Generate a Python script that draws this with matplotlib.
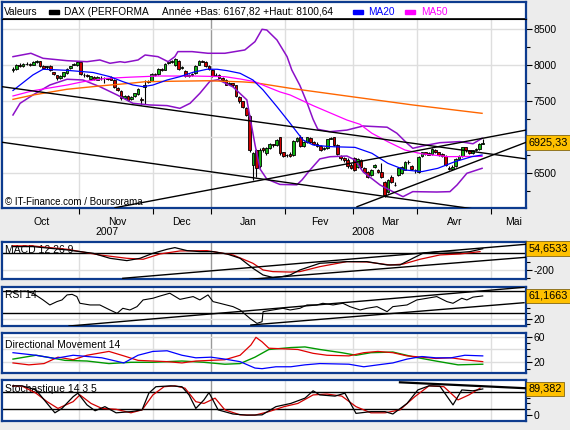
import matplotlib
matplotlib.use("Agg")
import matplotlib.pyplot as plt
from matplotlib.patches import Rectangle
import numpy as np

plt.rcParams['font.family'] = ['Liberation Sans', 'DejaVu Sans']
plt.rcParams['axes.unicode_minus'] = False

# ---- DAX daily candles, one entry per trading day (early Oct 2007 -> late Apr 2008)
opens = [7930, 7955, 8000, 7990, 8015, 8020, 8010, 8045, 8060, 7985, 7970, 7990, 7900, 7860, 7830, 7850, 7890, 7960, 8010, 8000,
         8040, 7870, 7860, 7810, 7840, 7800, 7830, 7820, 7820, 7840, 7800, 7690, 7640, 7550, 7580, 7530, 7570, 7600, 7530, 7700, 7770, 7780,
         7880, 7880, 7955, 7940, 8030, 8040, 8000, 8060, 7960, 7920, 7855, 7860, 7890, 8010, 8060, 8050, 7990,
         7940, 7860, 7870, 7830, 7790, 7740, 7750, 7720, 7560, 7500, 7410, 7300, 6615, 6820, 6600, 6850, 6780, 6850, 6900, 6890, 7000, 6790,
         6750, 6770, 6750, 6950, 7010, 6880, 6930, 6990, 6930, 6910, 6880, 6840, 6850, 6980, 7000, 6890, 6740, 6710, 6690, 6610,
         6710, 6590, 6685, 6575, 6520, 6475, 6590, 6545, 6520, 6380, 6240, 6450, 6340, 6475, 6505, 6545, 6650, 6600, 6545,
         6520, 6740, 6790, 6780, 6770, 6830, 6790, 6770, 6740, 6580, 6560, 6600, 6700, 6740, 6860, 6820, 6780, 6830, 6840, 6910]
highs = [7975, 8015, 8025, 8030, 8040, 8035, 8060, 8075, 8065, 8000, 7995, 8000, 7910, 7870, 7860, 7910, 7960, 7995, 8035, 8055,
         8050, 7890, 7880, 7855, 7850, 7850, 7845, 7840, 7830, 7850, 7810, 7700, 7660, 7590, 7590, 7575, 7620, 7680, 7560, 7790, 7800, 7890,
         7895, 7960, 7965, 8030, 8055, 8070, 8100, 8070, 7985, 7930, 7880, 7890, 8000, 8070, 8075, 8060, 8000,
         7950, 7890, 7880, 7840, 7810, 7770, 7760, 7730, 7570, 7510, 7420, 7310, 6800, 6840, 6850, 6870, 6870, 6920, 6910, 6980, 7010, 6800,
         6770, 6790, 6960, 7010, 7030, 6950, 7010, 7000, 6950, 6930, 6890, 6860, 6980, 7010, 7010, 6900, 6760, 6720, 6710, 6640,
         6720, 6710, 6700, 6590, 6530, 6560, 6630, 6560, 6640, 6390, 6420, 6470, 6380, 6590, 6600, 6670, 6680, 6620, 6560,
         6740, 6800, 6800, 6790, 6850, 6840, 6800, 6780, 6750, 6600, 6610, 6710, 6760, 6870, 6870, 6830, 6830, 6850, 6920, 6970]
lows = [7900, 7940, 7975, 7980, 8000, 7995, 8000, 8030, 7980, 7955, 7950, 7920, 7860, 7800, 7815, 7840, 7880, 7950, 8000, 7995,
        7870, 7840, 7840, 7800, 7800, 7790, 7800, 7760, 7795, 7790, 7690, 7640, 7520, 7530, 7500, 7515, 7560, 7590, 7450, 7460, 7760, 7775,
        7855, 7870, 7925, 7935, 8020, 8030, 7990, 7940, 7950, 7840, 7840, 7850, 7880, 8005, 8040, 7980, 7940,
        7840, 7850, 7820, 7780, 7720, 7720, 7700, 7560, 7480, 7400, 7290, 6800, 6400, 6450, 6580, 6790, 6760, 6840, 6860, 6880, 6760, 6730,
        6730, 6720, 6740, 6940, 6870, 6860, 6920, 6920, 6890, 6870, 6810, 6820, 6840, 6970, 6880, 6760, 6690, 6660, 6580, 6560,
        6530, 6580, 6580, 6510, 6440, 6460, 6580, 6500, 6430, 6167, 6220, 6370, 6320, 6460, 6490, 6540, 6630, 6540, 6500,
        6510, 6730, 6760, 6750, 6760, 6780, 6740, 6720, 6600, 6540, 6550, 6590, 6690, 6730, 6800, 6770, 6770, 6810, 6830, 6900]
closes = [7950, 8000, 7990, 8015, 8020, 8010, 8050, 8060, 7990, 7965, 7985, 7930, 7880, 7820, 7845, 7900, 7950, 7985, 8020, 8045,
          7880, 7860, 7850, 7845, 7810, 7835, 7820, 7825, 7810, 7800, 7700, 7660, 7540, 7575, 7520, 7560, 7610, 7670, 7520, 7720, 7780, 7880,
          7870, 7950, 7935, 8020, 8040, 8060, 8090, 7950, 7970, 7855, 7860, 7875, 7990, 8060, 8050, 7990, 7950,
          7850, 7870, 7830, 7790, 7730, 7755, 7720, 7580, 7500, 7420, 7310, 6820, 6780, 6570, 6830, 6820, 6850, 6900, 6895, 6960, 6780, 6740,
          6760, 6740, 6950, 6990, 6880, 6930, 7000, 6930, 6900, 6880, 6820, 6850, 6970, 6990, 6890, 6770, 6710, 6690, 6600, 6580,
          6545, 6700, 6590, 6520, 6450, 6545, 6615, 6520, 6450, 6200, 6410, 6380, 6340, 6575, 6590, 6655, 6650, 6560, 6540,
          6725, 6790, 6770, 6760, 6840, 6790, 6760, 6740, 6620, 6560, 6590, 6700, 6740, 6860, 6830, 6780, 6820, 6840, 6900, 6925]

# ---- overlays (day index, value)
ma20_d = [0, 5.9, 8.9, 16, 23.7, 28.7, 32.5, 35.5, 38.5, 41.4, 45.6, 49.4, 53.3, 57.4, 60.4, 63.3, 67.2, 71.0, 74.0, 78.1,
          82.0, 85.8, 88.8, 93.8, 101.2, 106.2, 110.9, 116.0, 121.0, 125.7, 130.8, 135.8, 138.8]
ma20_v = [7650, 7866, 7945, 7930, 7900, 7842, 7773, 7726, 7703, 7726, 7796, 7842, 7903, 7945, 7945, 7926, 7889, 7796, 7657, 7425,
          7195, 6963, 6893, 6870, 6860, 6778, 6639, 6546, 6523, 6569, 6662, 6731, 6754]
ma50_d = [0, 5.9, 16, 20.7, 27.8, 34.6, 42.9, 53, 62.7, 67.2, 71.6, 75.1, 79, 82, 88.8, 98.8, 102.7, 106.2, 110.9, 116, 121,
          128.7, 138.8]
ma50_v = [7574, 7647, 7726, 7772, 7819, 7835, 7851, 7851, 7842, 7810, 7772, 7703, 7630, 7588, 7440, 7240, 7180, 7056, 6939, 6823,
          6770, 6731, 6735]
ma100_d = [0, 5.9, 16, 25.7, 34.6, 39.1, 47.9, 57.7, 67.8, 71.6, 82, 98.8, 118.3, 138.8]
ma100_v = [7527, 7587, 7667, 7713, 7750, 7772, 7779, 7785, 7770, 7758, 7681, 7573, 7449, 7333]
bb_up_d = [0, 5.3, 8.9, 16, 21.9, 25.7, 28.7, 31.7, 33.1, 37, 39.1, 42.9, 45.9, 47.9, 48.8, 53, 57.7, 62.7, 68.6, 71.6, 73.7,
           75.1, 78.1, 81.1, 82.5, 84.9, 87.0, 88.8, 90.2, 93.8, 98.8, 103.6, 110.7, 113.6, 116.6, 118.3, 121.3, 126.3, 132.2,
           136.1, 138.8]
bb_up_v = [8120, 8167, 8097, 8064, 8050, 8074, 8028, 8050, 8040, 8074, 8143, 8120, 8050, 8120, 8190, 8190, 8167, 8167, 8213, 8328,
           8500, 8490, 8352, 8120, 7935, 7720, 7480, 7250, 7111, 7078, 7100, 7157, 7140, 7056, 6917, 6847, 6880, 6925, 6940,
           6910, 6986]
bb_lo_d = [0, 2.1, 5.9, 10.9, 16, 20.7, 25.7, 30.8, 35.5, 40.5, 45.6, 49.4, 52.4, 55.3, 58.3, 60.7, 65.1, 69.2, 71.6, 73.1,
           75.1, 79, 84, 85.5, 87.9, 90.8, 93.8, 98.8, 101.2, 103.6, 108.6, 112.4, 115.4, 118.3, 125.4, 129.3, 131.4, 134.3, 138.8]
bb_lo_v = [7310, 7472, 7588, 7726, 7806, 7796, 7703, 7588, 7472, 7449, 7440, 7402, 7472, 7611, 7780, 7800, 7700, 7520, 6900, 6560,
           6420, 6345, 6340, 6407, 6546, 6700, 6730, 6740, 6685, 6520, 6338, 6245, 6175, 6245, 6240, 6245, 6338, 6500, 6569]
# trend lines drawn on the price panel: (start day, start value, end day, end value)
price_trends = [(-3.25, 7703, 151.8, 6700), (-3.25, 6931, 151.8, 5902),
                (30.2, 6022, 151.8, 7100), (101.8, 6036, 151.8, 6930)]

# ---- MACD 12 26 9
macd_d = [0, 5.9, 16, 23.7, 28.7, 33.7, 37.6, 41.4, 45.6, 47.9, 51.5, 55.3, 59.2, 63.3, 67.2, 71.0, 74.0, 76.9, 79.6, 82.0,
          84.9, 90.8, 98.8, 104.7, 110.7, 114.5, 118.3, 121.3, 126.3, 132.2, 135.2, 139]
macd_v = [80, 80, 40, 0, -60, -88, -60, 0, 48, 68, 32, 20, 20, -8, -60, -180, -260, -290, -280, -260,
          -200, -120, -100, -100, -140, -140, -60, 0, 20, 10, 20, 54.65]
sig_d = [0, 5.9, 16, 25.7, 33.7, 38.5, 43.5, 49.4, 57.4, 65.1, 71, 74, 76.9, 82, 84.9, 90.8, 98.8, 104.7, 111.5, 115.4,
         120.4, 126.3, 132.2, 138.2]
sig_v = [90, 88, 48, -20, -60, -72, -8, 28, 32, -20, -120, -200, -220, -225, -220, -160, -100, -104, -140, -130,
         -72, -20, -8, 20]
macd_trends = [(32.5, -300, 151.8, 108), (70.1, -312, 151.8, -48)]

# ---- RSI 14
rsi_d = [0, 3.6, 5.9, 8.9, 10.9, 13.0, 14.5, 16, 17.5, 18.9, 19.8, 22.8, 25.7, 28.7, 30.8, 32.5, 34.6, 36.7, 38.5, 41.4,
         43.5, 46.4, 49.4, 53.3, 55.3, 57.7, 59.2, 61.2, 65.1, 67.2, 70.1, 72.2, 73.7, 74.0, 76.9, 79.9, 82.0, 84.9, 87.0,
         89.9, 91.7, 94.7, 97.6, 99.7, 102.7, 104.7, 107.7, 110.7, 112.4, 116.6, 119.5, 122.5, 125.4, 128.4, 130.2, 132.8,
         134.3, 136.1, 139]
rsi_v = [68, 70, 66, 54, 45, 51, 54, 63, 64, 60, 48, 45, 45, 36, 30, 39, 36, 42, 54, 57,
         61, 66, 55, 60, 54, 63, 51, 48, 42, 36, 21, 12, 15, 33, 36, 39, 36, 39, 45,
         45, 48, 45, 48, 42, 36, 39, 42, 33, 42, 45, 54, 57, 60, 51, 48, 57,
         54, 59, 61.17]
rsi_trends = [(16.6, 7.3, 151.2, 76.6), (70.4, 9.1, 151.2, 49)]

# ---- Directional Movement 14
dmi_blue_d = [0, 6.8, 12.4, 17.8, 26.3, 32.8, 37.0, 41.4, 45.6, 50.0, 54.1, 58.6, 62.7, 67.2, 71.6, 73.7, 77.8, 82.2, 86.4,
              90.8, 99.4, 103.8, 108.0, 112.4, 116.6, 121.0, 125.1, 129.6, 133.7, 139]
dmi_blue_v = [35, 31, 26, 31, 27, 19, 31, 37, 38, 31, 27, 28, 25, 21, 11, 10, 13, 13, 16,
              18, 17, 13, 16, 19, 25, 29, 27, 27, 31, 30]
dmi_red_d = [0, 4.7, 9.2, 13.3, 17.8, 21.9, 28.4, 32.8, 37.0, 41.4, 45.6, 50.0, 54.1, 58.6, 62.7, 67.2, 70.4, 71.9, 73.7,
             75.7, 80.2, 84.3, 88.8, 92.9, 99.4, 103.8, 108.0, 112.4, 116.6, 121.0, 125.1, 129.6, 133.7, 139]
dmi_red_v = [19, 16, 18, 28, 24, 31, 37, 30, 23, 22, 21, 19, 22, 23, 24, 31, 47, 59, 52,
             42, 41, 40, 34, 31, 30, 35, 37, 35, 30, 28, 26, 27, 24, 21]
adx_d = [0, 6.8, 11.2, 15.4, 21.9, 28.4, 34.9, 41.4, 50.0, 56.5, 62.7, 67.2, 71.6, 75.7, 82.2, 86.4, 90.8, 97.3, 101.5,
         105.9, 112.4, 118.9, 125.1, 131.7, 139]
adx_v = [25, 31, 27, 23, 22, 18, 20, 20, 22, 20, 17, 18, 28, 40, 43, 44, 40, 35, 31,
         35, 36, 28, 22, 16, 17]

# ---- Stochastique 14 3 5
stk_d = [0, 2.7, 6.8, 10.1, 12.4, 14.5, 17.8, 19.2, 21.9, 24.3, 27.2, 30.5, 34.9, 38.2, 40.2, 42.3, 46.7, 50.0, 52.1, 54.1,
         56.5, 58.0, 60.7, 65.1, 69.2, 73.7, 77.8, 82.2, 86.4, 88.8, 90.8, 95.3, 98.2, 101.5, 105.9, 110.1, 112.4, 116.6,
         119.8, 123.1, 126.3, 130.2, 132.8, 136.1, 139]
stk_v = [100, 100, 86, 40, 8, 23, 63, 75, 35, 15, 29, 8, 12, 18, 75, 97, 100, 97, 69, 23,
         52, 77, 18, 4, 0, 1, 29, 40, 58, 83, 69, 65, 75, 6, 12, 12, 4, 40,
         86, 100, 99, 35, 86, 83, 89.38]
std_d = [0, 2.7, 6.8, 10.1, 13.3, 17.8, 19.8, 23.1, 26.3, 30.5, 34.9, 38.2, 41.4, 44.7, 47.9, 50.9, 54.1, 56.5, 59.8, 62.7,
         67.2, 71.6, 75.7, 80.2, 84.3, 88.8, 92.9, 97.3, 101.5, 105.9, 110.1, 114.5, 118.9, 123.1, 127.5, 131.7, 134.9, 138.2]
std_v = [100, 99, 75, 46, 23, 46, 69, 40, 23, 20, 8, 18, 69, 97, 100, 92, 46, 40, 58, 18,
         1, 0, 12, 29, 40, 69, 72, 65, 29, 8, 8, 18, 63, 100, 97, 52, 69, 92]
stoch_trends = [(114.5, 112, 152.1, 91.6)]

month_bounds = [19.5, 41.5, 58.5, 80.5, 100.5, 119.5, 141.5]
month_pos = [8.6, 30.8, 49.7, 69.5, 90.8, 111.5, 130.8, 148.0]
month_names = ["Oct", "Nov", "Dec", "Jan", "Fev", "Mar", "Avr", "Mai"]
year_pos = [27.8, 103.6]
year_names = ["2007", "2008"]

W, H = 570, 430
XMIN, XMAX = -3.25, 151.8
NAVY = "#0d3b8e"
GRID = "#dedede"
GRID_YEAR = "#9a9a9a"
BOX = "#ffc000"

fig = plt.figure(figsize=(W / 100, H / 100), dpi=100, facecolor="#ececec")


def panel(y0, y1, ylim):
    ax = fig.add_axes([2 / W, 1 - y1 / H, 524 / W, (y1 - y0) / H])
    ax.set_xlim(XMIN, XMAX)
    ax.set_ylim(*ylim)
    ax.set_facecolor("white")
    for s in ax.spines.values():
        s.set_color(NAVY)
        s.set_linewidth(1.6)
    ax.yaxis.tick_right()
    ax.tick_params(axis="y", which="major", length=4, width=0.8, pad=1.5, labelsize=7.5)
    ax.tick_params(axis="y", which="minor", length=3, width=0.8)
    ax.set_xticks([])
    for b in month_bounds:
        ax.axvline(b, color=GRID_YEAR if b == month_bounds[2] else GRID, lw=1, zorder=0)
    return ax


def value_box(ax, v, txt):
    ax.text(1.004, v, txt, transform=ax.get_yaxis_transform(), ha="left", va="center",
            fontsize=7.8, zorder=10, clip_on=False,
            bbox=dict(boxstyle="square,pad=0.22", fc=BOX, ec="#6a5000", lw=0.5))


def trends(ax, segs, lw=1.0):
    for x0, v0, x1, v1 in segs:
        ax.plot([x0, x1], [v0, v1], color="black", lw=lw, zorder=4)


def label(ax, txt):
    ax.text(0.006, 0.78, txt, transform=ax.transAxes, fontsize=7.5, ha="left", va="center", zorder=1)


# ---- header with legend
head = fig.add_axes([2 / W, 1 - 19 / H, 524 / W, 17 / H])
head.set_xticks([])
head.set_yticks([])
for k, s in head.spines.items():
    s.set_color("black" if k == "bottom" else NAVY)
    s.set_linewidth(1.2 if k == "bottom" else 1.6)
hy = 1 - 12 / H
fig.text(4 / W, hy, "Valeurs", fontsize=7.3, va="center")
fig.patches.append(Rectangle((49 / W, 1 - 13.5 / H), 10 / W, 3 / H, transform=fig.transFigure, color="black"))
fig.text(64 / W, hy, "DAX (PERFORMA", fontsize=7.3, va="center")
fig.text(162 / W, hy, "Année +Bas: 6167,82 +Haut: 8100,64", fontsize=7.3, va="center")
fig.patches.append(Rectangle((353 / W, 1 - 13.5 / H), 10 / W, 3 / H, transform=fig.transFigure, color="#0000ff"))
fig.text(368 / W, hy, "MA20", fontsize=7.3, va="center", color="#0000ff")
fig.patches.append(Rectangle((405 / W, 1 - 13.5 / H), 10 / W, 3 / H, transform=fig.transFigure, color="#ff00ff"))
fig.text(421 / W, hy, "MA50", fontsize=7.3, va="center", color="#ff00ff")

# ---- price panel
ax = panel(19, 207.7, (6022, 8643))
ax.spines["top"].set_color("black")
ax.spines["top"].set_linewidth(0.8)
for v in [6500, 7000, 7500, 8000, 8500]:
    ax.axhline(v, color=GRID, lw=1, zorder=0)
ax.set_yticks([6500, 7000, 7500, 8000, 8500])
ax.set_yticklabels(["6500", "", "7500", "8000", "8500"])
ax.set_yticks([6250, 6750, 7250, 7750, 8250], minor=True)
ax.set_xticks(month_bounds)
ax.set_xticklabels([])
ax.set_xticks(month_pos, minor=True)
ax.set_xticklabels(month_names, minor=True, fontsize=7.5)
ax.tick_params(axis="x", which="major", length=4, width=0.8, color="black")
ax.tick_params(axis="x", which="minor", length=0, pad=6.5)
for p, n in zip(year_pos, year_names):
    ax.text(p, -0.13, n, transform=ax.get_xaxis_transform(), ha="center", va="center", fontsize=7.5)

days = np.arange(len(closes))
o = np.array(opens)
c = np.array(closes)
body_col = np.where(c >= o, "#12b312", "#cc0000")
ax.vlines(days, lows, highs, color="black", lw=0.8, zorder=3)
ax.bar(days, np.maximum(np.abs(c - o), 1), bottom=np.minimum(o, c), width=0.8,
       color=body_col, edgecolor="black", linewidth=0.6, zorder=3)

ax.plot(bb_up_d, bb_up_v, color="#8c10c8", lw=1.1, zorder=4)
ax.plot(bb_lo_d, bb_lo_v, color="#8c10c8", lw=1.1, zorder=4)
ax.plot(ma100_d, ma100_v, color="#ff6600", lw=1.0, zorder=4)
ax.plot(ma50_d, ma50_v, color="#ff00ff", lw=0.9, zorder=4)
ax.plot(ma20_d, ma20_v, color="#0000ff", lw=0.9, zorder=4)
trends(ax, price_trends)
ax.text(0.006, 0.03, "© IT-Finance.com / Boursorama", transform=ax.transAxes, fontsize=7, ha="left",
        va="center", zorder=6)
value_box(ax, closes[-1], "6925,33")

# ---- MACD
m = panel(241.7, 279.3, (-312, 139))
m.axhline(-200, color=GRID, lw=1, zorder=0)
m.axhline(0, color="black", lw=1, zorder=2)
m.set_yticks([-200])
m.set_yticks([-300, -100, 0, 100], minor=True)
label(m, "MACD 12 26 9")
m.plot(sig_d, sig_v, color="#d00000", lw=0.9, zorder=3)
m.plot(macd_d, macd_v, color="black", lw=0.9, zorder=3)
trends(m, macd_trends)
value_box(m, 54.65, "54,6533")

# ---- RSI
r = panel(286.7, 326, (7.3, 77.7))
r.axhline(20, color=GRID, lw=1, zorder=0)
r.axhline(70, color="black", lw=1, zorder=2)
r.axhline(30, color="black", lw=1, zorder=2)
r.set_yticks([20])
r.set_yticks([10, 30, 40, 50, 60, 70], minor=True)
label(r, "RSI 14")
r.plot(rsi_d, rsi_v, color="black", lw=0.8, zorder=3)
trends(r, rsi_trends)
value_box(r, 61.17, "61,1663")

# ---- Directional movement
d = panel(333.3, 373.3, (2.8, 65.3))
for v in [20, 40, 60]:
    d.axhline(v, color=GRID, lw=1, zorder=0)
d.set_yticks([20, 60])
d.set_yticks([10, 30, 40, 50], minor=True)
d.text(0.006, 0.72, "Directional Movement 14", transform=d.transAxes, fontsize=7.5, ha="left", va="center", zorder=1)
d.plot(adx_d, adx_v, color="#009900", lw=1.0, zorder=3)
d.plot(dmi_red_d, dmi_red_v, color="#e00000", lw=0.9, zorder=3)
d.plot(dmi_blue_d, dmi_blue_v, color="#0000ff", lw=0.9, zorder=3)

# ---- Stochastic
s = panel(380, 420.7, (-18.9, 119.9))
s.axhline(80, color="black", lw=1, zorder=2)
s.axhline(20, color="black", lw=1, zorder=2)
s.set_yticks([0])
s.set_yticks([20, 40, 60, 80, 100], minor=True)
s.text(0.006, 0.77, "Stochastique 14 3 5", transform=s.transAxes, fontsize=7.5, ha="left", va="center", zorder=1)
s.plot(std_d, std_v, color="#d00000", lw=0.9, zorder=3)
s.plot(stk_d, stk_v, color="black", lw=0.9, zorder=3)
trends(s, stoch_trends, lw=1.6)
value_box(s, 89.38, "89,382")

fig.savefig("out.png", dpi=100, facecolor=fig.get_facecolor())
